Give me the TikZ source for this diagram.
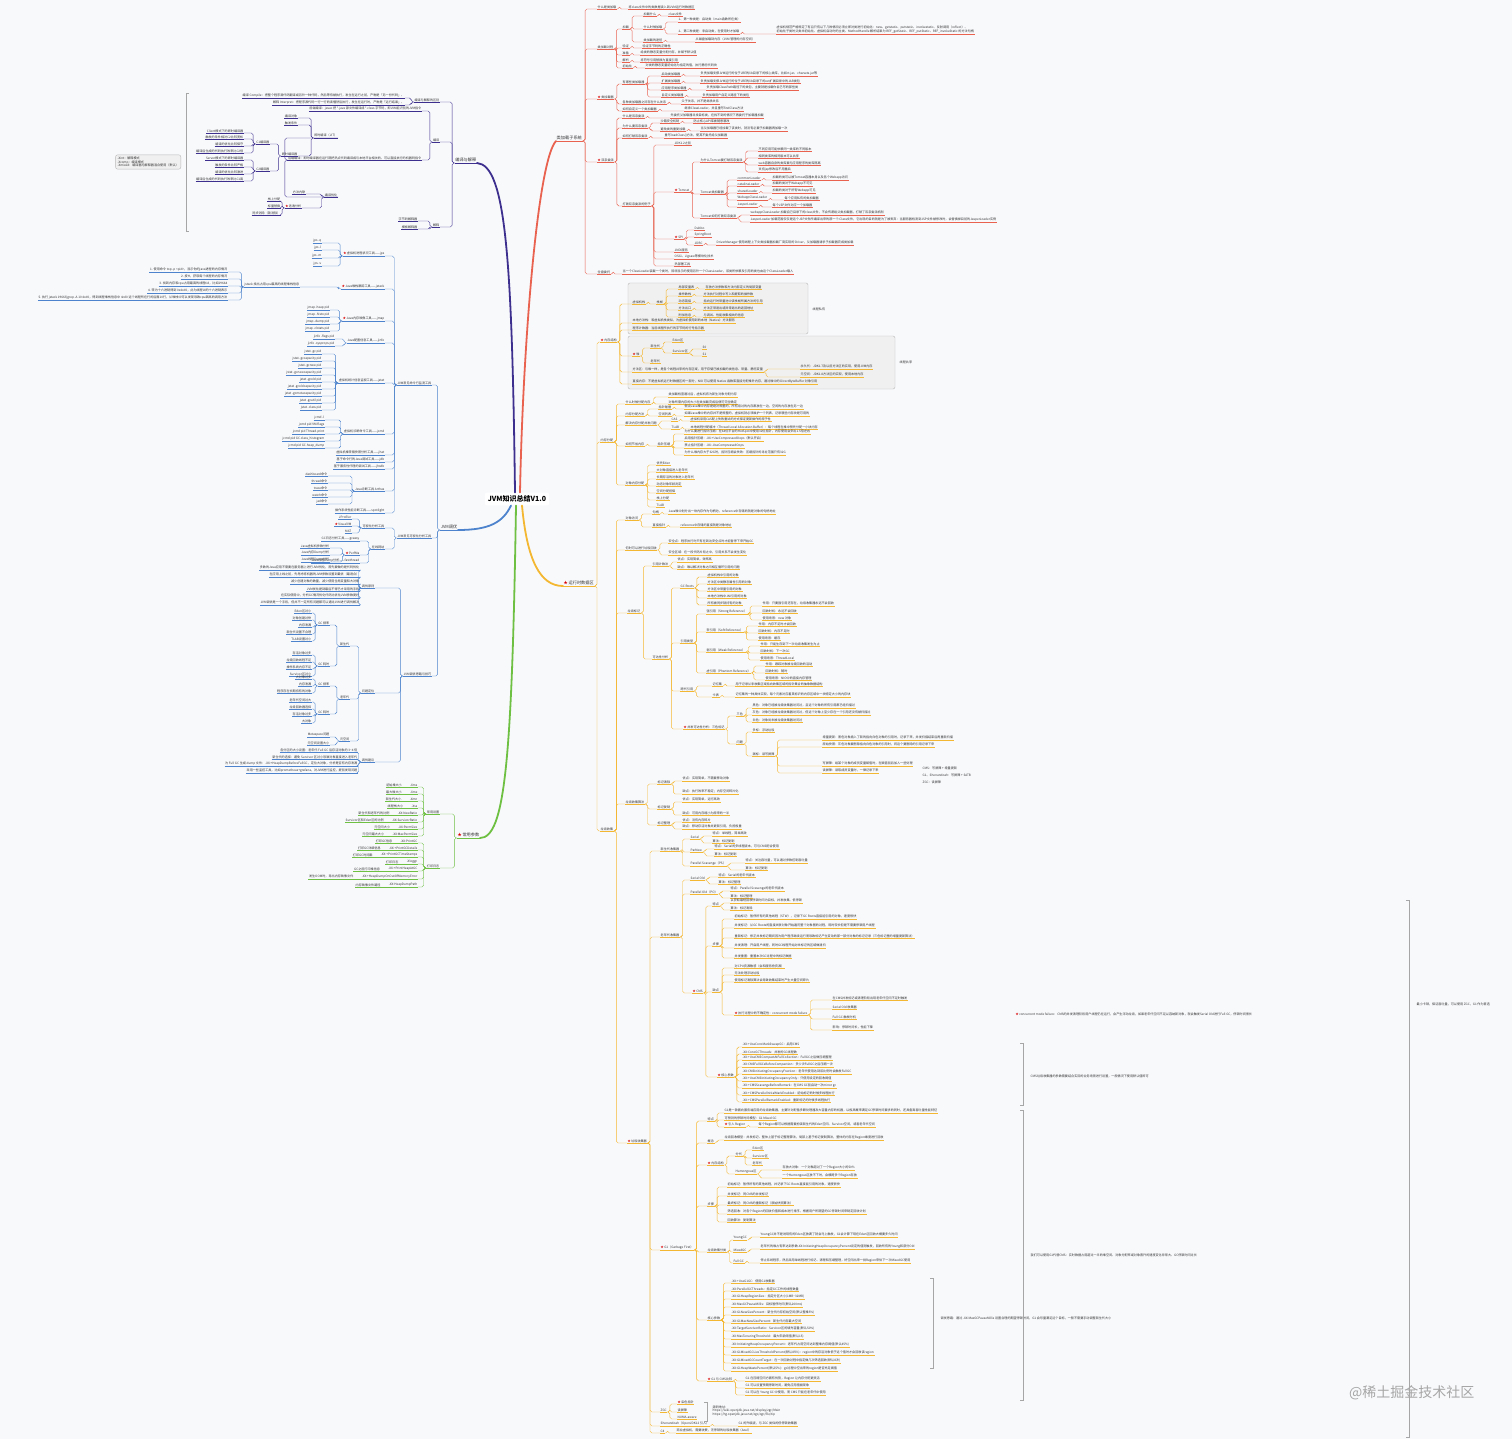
\documentclass[tikz,border=0pt]{standalone}
\usepackage{fontspec}
\setmainfont{Noto Sans CJK SC}
\usetikzlibrary{positioning}

\definecolor{cR}{HTML}{E8624F}
\definecolor{cP}{HTML}{3D2F8E}
\definecolor{cB}{HTML}{4D83CC}
\definecolor{cG}{HTML}{6EC043}
\definecolor{cO}{HTML}{F4B731}
\definecolor{bgc}{HTML}{F8F9FB}

\newcommand{\st}{{\color{red!85!black}★}\,}
% links from a parent to its children, right and left side
\newcommand{\rlk}[3]{\foreach \nn in {#3}{\draw[lk=#1] (#2.south east) -- ++(2.5,0) |- (\nn.south west);}}
\newcommand{\llk}[3]{\foreach \nn in {#3}{\draw[lk=#1] (#2.south west) -- ++(-2.5,0) |- (\nn.south east);}}

\tikzset{
  t/.style={font=\fontsize{3.1}{3.7}\selectfont, inner sep=0.5pt, text=black!80},
  rn/.style={t, anchor=south west, append after command={(\tikzlastnode.south west) edge[draw=#1, line width=.4pt] (\tikzlastnode.south east)}},
  ln/.style={t, anchor=south east, append after command={(\tikzlastnode.south west) edge[draw=#1, line width=.4pt] (\tikzlastnode.south east)}},
  mb/.style={rn=#1, font=\fontsize{4.2}{5}\selectfont},
  mbl/.style={ln=#1, font=\fontsize{4.2}{5}\selectfont},
  lk/.style={draw=#1, line width=.4pt, rounded corners=1.8pt},
  trunk/.style={draw=#1, line width=1.8pt, line cap=round},
  note/.style={t, anchor=west, align=left},
  brace/.style={draw=gray!70, line width=.4pt},
  boxed/.style={fill=gray!12, draw=gray!55, line width=.4pt, rounded corners=2pt},
}

\begin{document}
\begin{tikzpicture}[x=1pt,y=-1pt]
\fill[bgc] (0,0) rectangle (1512,1439);
\useasboundingbox (0,0) rectangle (1512,1439);

% grey boxes of the memory structure
\draw[boxed] (628,283) rectangle (808,334);
\draw[boxed] (628,336) rectangle (895,389);

\node[fill=white, rounded corners=2pt, inner sep=3pt, font=\fontsize{7}{8}\selectfont\bfseries] (root) at (517,499) {JVM知识总结V1.0};

% ---------------- 类加载子系统 ----------------
\node[mb=cR] (cls) at (556,141) {类加载子系统};
\draw[trunk=cR] ([xshift=3pt]root.north) .. controls (523,340) and (538,160) .. (cls.south west);
\node[rn=cR] (ca) at (597,9) {什么是类加载};
\node[rn=cR] (cb) at (597,49) {类加载过程};
\node[rn=cR] (cc) at (597,99) {\st 类加载器};
\node[rn=cR] (cd) at (597,162) {\st 双亲委派};
\node[rn=cR] (ce) at (597,274) {全盘委托};
\rlk{cR}{cls}{ca,cb,cc,cd,ce}
\node[rn=cR] (ca1) at (628,9) {将class文件中的类数据读入到JVM运行时数据区};
\rlk{cR}{ca}{ca1}
\node[rn=cR] (cb1) at (622,29) {加载};
\node[rn=cR] (cb2) at (622,48) {验证};
\node[rn=cR] (cb3) at (622,55) {准备};
\node[rn=cR] (cb4) at (622,62) {解析};
\node[rn=cR] (cb5) at (622,68) {初始化};
\rlk{cR}{cb}{cb1,cb2,cb3,cb4,cb5}
\node[rn=cR] (cb21) at (642,48) {验证字节码的正确性};
\node[rn=cR] (cb31) at (640,55) {给类的静态变量分配内存，并赋予默认值};
\node[rn=cR] (cb41) at (640,62) {将符号引用替换为直接引用};
\node[rn=cR] (cb51) at (645,68) {对类的静态变量初始化为指定的值，执行静态代码块};
\rlk{cR}{cb2}{cb21} \rlk{cR}{cb3}{cb31} \rlk{cR}{cb4}{cb41} \rlk{cR}{cb5}{cb51}
\node[rn=cR] (cl1) at (643,16) {加载什么};
\node[rn=cR] (cl2) at (643,29) {什么时候加载};
\node[rn=cR] (cl3) at (643,42) {类加载的途径};
\rlk{cR}{cb1}{cl1,cl2,cl3}
\node[rn=cR] (cl11) at (668,16) {class文件};
\node[rn=cR] (cl21) at (678,22) {1、第一种类是：启动类（main函数所在类）};
\node[rn=cR] (cl22) at (678,34) {2、第二种类是：非启动类，在使用时才加载};
\node[rn=cR, align=left] (cl23) at (776,34) {虚拟机规范严格规定了有且只有以下几种情况必须立即对类进行初始化：new、getstatic、putstatic、invokestatic、反射调用（reflect）、\\初始化子类时父类未初始化、虚拟机启动时的主类、MethodHandle 解析结果为 REF\_getStatic、REF\_putStatic、REF\_invokeStatic 的方法句柄};
\node[rn=cR] (cl31) at (695,42) {从磁盘加载到内存（JVM 管理的内存空间）};
\rlk{cR}{cl1}{cl11} \rlk{cR}{cl2}{cl21,cl22} \rlk{cR}{cl22}{cl23} \rlk{cR}{cl3}{cl31}
\node[rn=cR] (cc1) at (622,84) {有哪些类加载器};
\node[rn=cR] (cc2) at (622,104) {各种类加载器之间存在什么关系};
\node[rn=cR] (cc3) at (622,111) {如何自定义一个类加载器};
\rlk{cR}{cc}{cc1,cc2,cc3}
\node[rn=cR] (cc11) at (661,76) {启动类加载器};
\node[rn=cR] (cc12) at (661,83) {扩展类加载器};
\node[rn=cR] (cc13) at (661,90) {应用程序类加载器};
\node[rn=cR] (cc14) at (661,97) {自定义类加载器};
\rlk{cR}{cc1}{cc11,cc12,cc13,cc14}
\node[rn=cR] (cc111) at (700,76) {负责加载支撑JVM运行的位于JRE的lib目录下的核心类库，比如rt.jar、charsets.jar等};
\node[rn=cR] (cc121) at (700,83) {负责加载支撑JVM运行的位于JRE的lib目录下的ext扩展目录中的JAR类包};
\node[rn=cR] (cc131) at (706,90) {负责加载ClassPath路径下的类包，主要就是加载你自己写的那些类};
\node[rn=cR] (cc141) at (702,97) {负责加载用户自定义路径下的类包};
\rlk{cR}{cc11}{cc111} \rlk{cR}{cc12}{cc121} \rlk{cR}{cc13}{cc131} \rlk{cR}{cc14}{cc141}
\node[rn=cR] (cc21) at (681,104) {父子关系，并不是继承关系};
\node[rn=cR] (cc31) at (684,111) {继承ClassLoader，并且重写findClass方法};
\rlk{cR}{cc2}{cc21} \rlk{cR}{cc3}{cc31}
\node[rn=cR] (cd1) at (622,118) {什么是双亲委派};
\node[rn=cR] (cd2) at (622,128) {为什么要双亲委派};
\node[rn=cR] (cd3) at (622,138) {如何打破双亲委派};
\node[rn=cR] (cd4) at (622,206) {打破双亲委派的例子};
\rlk{cR}{cd}{cd1,cd2,cd3,cd4}
\node[rn=cR] (cd11) at (670,118) {先委托父加载器寻找目标类，在找不到的情况下再委托子加载器加载};
\node[rn=cR] (cd21) at (660,123) {沙箱安全机制};
\node[rn=cR] (cd22) at (660,131) {避免类的重复加载};
\node[rn=cR] (cd211) at (693,123) {防止核心API库被随意篡改};
\node[rn=cR] (cd221) at (700,131) {当父加载器已经加载了该类时，就没有必要子加载器再加载一次};
\node[rn=cR] (cd31) at (664,138) {重写loadClass()方法，使其不委托给父加载器};
\rlk{cR}{cd1}{cd11} \rlk{cR}{cd2}{cd21,cd22} \rlk{cR}{cd21}{cd211} \rlk{cR}{cd22}{cd221} \rlk{cR}{cd3}{cd31}
\node[rn=cR] (cx1) at (674,145) {JDK1.2之前};
\node[rn=cR] (cx2) at (674,192) {\st Tomcat};
\node[rn=cR] (cx3) at (674,239) {\st SPI};
\node[rn=cR] (cx4) at (674,252) {JNDI服务};
\node[rn=cR] (cx5) at (674,259) {OSGi、Jigsaw等模块化技术};
\node[rn=cR] (cx6) at (674,266) {热部署工具};
\rlk{cR}{cd4}{cx1,cx2,cx3,cx4,cx5,cx6}
\node[rn=cR] (ct1) at (700,162) {为什么Tomcat要打破双亲委派};
\node[rn=cR] (ct2) at (700,194) {Tomcat类加载器};
\node[rn=cR] (ct3) at (700,218) {Tomcat如何打破双亲委派};
\rlk{cR}{cx2}{ct1,ct2,ct3}
\node[rn=cR] (ct11) at (758,151) {不同应用可能依赖同一类库的不同版本};
\node[rn=cR] (ct12) at (758,158) {相同类库的相同版本可以共享};
\node[rn=cR] (ct13) at (758,165) {web容器自身的类库要与应用程序的类库隔离};
\node[rn=cR] (ct14) at (758,172) {支持jsp修改后不用重启};
\rlk{cR}{ct1}{ct11,ct12,ct13,ct14}
\node[rn=cR] (ct21) at (737,180) {commonLoader};
\node[rn=cR] (ct22) at (737,186) {catalinaLoader};
\node[rn=cR] (ct23) at (737,193) {sharedLoader};
\node[rn=cR] (ct24) at (737,200) {WebappClassLoader};
\node[rn=cR] (ct25) at (737,207) {JasperLoader};
\rlk{cR}{ct2}{ct21,ct22,ct23,ct24,ct25}
\node[rn=cR] (ct211) at (772,180) {加载的类可以被Tomcat容器本身以及各个Webapp访问};
\node[rn=cR] (ct221) at (772,186) {加载的类对于Webapp不可见};
\node[rn=cR] (ct231) at (772,193) {加载的类对于所有Webapp可见};
\node[rn=cR] (ct241) at (784,200) {每个应用私有的类加载器};
\node[rn=cR] (ct251) at (772,207) {每个JSP文件对应一个加载器};
\rlk{cR}{ct21}{ct211} \rlk{cR}{ct22}{ct221} \rlk{cR}{ct23}{ct231} \rlk{cR}{ct24}{ct241} \rlk{cR}{ct25}{ct251}
\node[rn=cR] (ct31) at (750,215) {webappClassLoader 加载自己目录下的class文件，不会传递给父类加载器，打破了双亲委派机制};
\node[rn=cR] (ct32) at (750,222) {JasperLoader 加载范围仅仅是这个JSP文件所编译出来的那一个.Class文件，它出现的目的就是为了被丢弃：当服务器检测到JSP文件被修改时，会替换掉目前的JasperLoader实例};
\rlk{cR}{ct3}{ct31,ct32}
\node[rn=cR] (cs1) at (694,230) {Dubbo};
\node[rn=cR] (cs2) at (694,237) {SpringBoot};
\node[rn=cR] (cs3) at (694,245) {JDBC};
\rlk{cR}{cx3}{cs1,cs2,cs3}
\node[rn=cR] (cs31) at (716,245) {DriverManager 使用线程上下文类加载器加载厂商实现的 Driver，父加载器请求子加载器完成类加载};
\rlk{cR}{cs3}{cs31}
\node[rn=cR] (ce1) at (622,274) {当一个ClassLoader装载一个类时，除非显示的使用另外一个ClassLoader，该类所依赖及引用的类也由这个ClassLoader载入};
\rlk{cR}{ce}{ce1}

% ---------------- 运行时数据区 ----------------
\node[mb=cO] (rt) at (563,586) {\st 运行时数据区};
\draw[trunk=cO] ([xshift=5pt]root.south) .. controls (527,560) and (540,586) .. (rt.south west);
\node[rn=cO] (m1) at (600,342) {\st 内存结构};
\node[rn=cO] (m2) at (600,442) {内存分配};
\node[rn=cO] (m3) at (600,831) {垃圾收集};
\rlk{cO}{rt}{m1,m2,m3}
\node[rn=cO] (s1) at (632,304) {虚拟机栈};
\node[rn=cO] (s2) at (632,323) {本地方法栈：和虚拟机栈类似，为虚拟机使用到的本地（Native）方法服务};
\node[rn=cO] (s3) at (632,330) {程序计数器：当前线程所执行的字节码的行号指示器};
\node[rn=cO] (h1) at (632,356) {\st 堆};
\node[rn=cO] (h2) at (632,372) {方法区：与堆一样，是各个线程共享的内存区域，用于存储已被加载的类信息、常量、静态变量};
\node[rn=cO] (h3) at (632,384) {直接内存：不是虚拟机运行时数据区的一部分，NIO 可以使用 Native 函数库直接分配堆外内存，通过堆中的 DirectByteBuffer 对象引用};
\rlk{cO}{m1}{s1,s2,s3,h1,h2,h3}
\node[rn=cO] (s11) at (656,304) {栈帧};
\rlk{cO}{s1}{s11}
\node[rn=cO] (sf1) at (678,289) {局部变量表};
\node[rn=cO] (sf2) at (678,296) {操作数栈};
\node[rn=cO] (sf3) at (678,303) {动态链接};
\node[rn=cO] (sf4) at (678,310) {方法出口};
\node[rn=cO] (sf5) at (678,317) {附加信息};
\rlk{cO}{s11}{sf1,sf2,sf3,sf4,sf5}
\node[rn=cO] (sf11) at (705,289) {存放方法参数和方法内部定义的局部变量};
\node[rn=cO] (sf21) at (703,296) {方法执行过程中写入和提取的操作数};
\node[rn=cO] (sf31) at (703,303) {指向运行时常量池中该栈帧所属方法的引用};
\node[rn=cO] (sf41) at (703,310) {方法正常退出或异常退出的返回地址};
\node[rn=cO] (sf51) at (703,317) {与调试、性能收集相关的信息};
\rlk{cO}{sf1}{sf11} \rlk{cO}{sf2}{sf21} \rlk{cO}{sf3}{sf31} \rlk{cO}{sf4}{sf41} \rlk{cO}{sf5}{sf51}
\node[rn=cO] (h11) at (650,348) {新生代};
\node[rn=cO] (h12) at (650,363) {老年代};
\rlk{cO}{h1}{h11,h12}
\node[rn=cO] (h111) at (672,342) {Eden区};
\node[rn=cO] (h112) at (672,353) {Survivor区};
\rlk{cO}{h11}{h111,h112}
\node[rn=cO] (h1121) at (702,349) {S0};
\node[rn=cO] (h1122) at (702,356) {S1};
\rlk{cO}{h112}{h1121,h1122}
\node[rn=cO] (h21) at (800,369) {永久代：JDK1.7及以前方法区的实现，使用JVM内存};
\node[rn=cO] (h22) at (800,377) {元空间：JDK1.8方法区的实现，使用本地内存};
\rlk{cO}{h2}{h21,h22}
\node[t, anchor=west] (nprv) at (812,309) {线程私有};
\node[t, anchor=west] (nshr) at (899,362) {线程共享};

\node[rn=cO] (a1) at (625,404) {什么时候分配内存};
\node[rn=cO] (a2) at (625,416) {内存分配方法};
\node[rn=cO] (a3) at (625,425) {解决内存分配并发问题};
\node[rn=cO] (a4) at (625,446) {如何节省内存};
\node[rn=cO] (a5) at (625,485) {对象内存分配};
\rlk{cO}{m2}{a1,a2,a3,a4,a5}
\node[rn=cO] (a11) at (668,397) {类加载检查通过后，虚拟机将为新生对象分配内存};
\node[rn=cO] (a12) at (668,404) {对象所需内存的大小在类加载完成后便可完全确定};
\rlk{cO}{a1}{a11,a12}
\node[rn=cO] (a21) at (658,409) {指针碰撞};
\node[rn=cO] (a22) at (658,416) {空闲列表};
\rlk{cO}{a2}{a21,a22}
\node[rn=cO] (a211) at (684,409) {假设Java堆中内存是绝对规整的，所有用过的内存都放在一边，空闲的内存放在另一边};
\node[rn=cO] (a221) at (684,416) {如果Java堆中的内存并不是规整的，虚拟机就必须维护一个列表，记录哪些内存块是可用的};
\rlk{cO}{a21}{a211} \rlk{cO}{a22}{a221}
\node[rn=cO] (a31) at (671,421) {CAS};
\node[rn=cO] (a32) at (671,429) {TLAB};
\rlk{cO}{a3}{a31,a32}
\node[rn=cO] (a311) at (690,421) {虚拟机采用CAS配上失败重试的方式保证更新操作的原子性};
\node[rn=cO] (a321) at (690,429) {本地线程分配缓冲（Thread Local Allocation Buffer）：每个线程在堆中预先分配一小块内存};
\rlk{cO}{a31}{a311} \rlk{cO}{a32}{a321}
\node[rn=cO] (a41) at (657,446) {指针压缩};
\rlk{cO}{a4}{a41}
\node[rn=cO] (a411) at (684,434) {为什么要进行指针压缩：在64位平台的HotSpot中使用32位指针，内存使用会多出1.5倍左右};
\node[rn=cO] (a412) at (684,441) {启用指针压缩：-XX:+UseCompressedOops（默认开启）};
\node[rn=cO] (a413) at (684,448) {禁止指针压缩：-XX:-UseCompressedOops};
\node[rn=cO] (a414) at (684,455) {为什么堆内存大于32G时，指针压缩会失效：压缩指针的寻址范围只有32G};
\rlk{cO}{a41}{a411,a412,a413,a414}
\node[rn=cO] (a51) at (656,465) {优先Eden};
\node[rn=cO] (a52) at (656,472) {大对象直接进入老年代};
\node[rn=cO] (a53) at (656,479) {长期存活的对象进入老年代};
\node[rn=cO] (a54) at (656,486) {动态对象年龄判定};
\node[rn=cO] (a55) at (656,493) {空间分配担保};
\node[rn=cO] (a56) at (656,500) {栈上分配};
\node[rn=cO] (a57) at (656,507) {TLAB};
\rlk{cO}{a5}{a51,a52,a53,a54,a55,a56,a57}

\node[rn=cO] (g1) at (625,520) {对象访问};
\node[rn=cO] (g2) at (625,550) {何时可以进行垃圾回收};
\node[rn=cO] (g3) at (627,613) {垃圾标记};
\node[rn=cO] (g4) at (625,804) {垃圾收集算法};
\node[rn=cO] (g5) at (627,1143) {\st 垃圾收集器};
\rlk{cO}{m3}{g1,g2,g3,g4,g5}
\node[rn=cO] (g11) at (652,514) {句柄};
\node[rn=cO] (g12) at (652,527) {直接指针};
\rlk{cO}{g1}{g11,g12}
\node[rn=cO] (g111) at (668,514) {Java堆中划分出一块内存作为句柄池，reference中存储的就是对象的句柄地址};
\node[rn=cO] (g121) at (680,527) {reference中存储的直接就是对象地址};
\rlk{cO}{g11}{g111} \rlk{cO}{g12}{g121}
\node[rn=cO] (g21) at (668,543) {安全点：程序执行时只有在到达安全点时才能暂停下来开始GC};
\node[rn=cO] (g22) at (668,555) {安全区域：在一段代码片段之中，引用关系不会发生变化};
\rlk{cO}{g2}{g21,g22}
\node[rn=cO] (g31) at (652,566) {引用计数法};
\node[rn=cO] (g32) at (652,659) {可达性分析};
\rlk{cO}{g3}{g31,g32}
\node[rn=cO] (g311) at (677,562) {优点：实现简单，效率高};
\node[rn=cO] (g312) at (677,569) {缺点：难以解决对象之间相互循环引用的问题};
\rlk{cO}{g31}{g311,g312}
\node[rn=cO] (r1) at (680,588) {GC Roots};
\node[rn=cO] (r2) at (680,643) {引用类型};
\node[rn=cO] (r3) at (680,691) {跨代引用};
\node[rn=cO] (r4) at (683,729) {\st 并发可达性分析：三色标记};
\rlk{cO}{g32}{r1,r2,r3,r4}
\node[rn=cO] (r11) at (707,577) {虚拟机栈中引用的对象};
\node[rn=cO] (r12) at (707,584) {方法区中类静态属性引用的对象};
\node[rn=cO] (r13) at (707,591) {方法区中常量引用的对象};
\node[rn=cO] (r14) at (707,598) {本地方法栈中JNI引用的对象};
\node[rn=cO] (r15) at (707,605) {所有被同步锁持有的对象};
\rlk{cO}{r1}{r11,r12,r13,r14,r15}
\node[rn=cO] (r21) at (706,614) {强引用（Strong Reference）};
\node[rn=cO] (r22) at (706,632) {软引用（Soft Reference）};
\node[rn=cO] (r23) at (706,652) {弱引用（Weak Reference）};
\node[rn=cO] (r24) at (706,673) {虚引用（Phantom Reference）};
\rlk{cO}{r2}{r21,r22,r23,r24}
\node[rn=cO] (r211) at (762,606) {作用：只要强引用还存在，垃圾收集器永远不会回收};
\node[rn=cO] (r212) at (762,613) {回收时机：永远不会回收};
\node[rn=cO] (r213) at (762,620) {使用场景：new 对象};
\node[rn=cO] (r221) at (758,626) {作用：内存不足时才会回收};
\node[rn=cO] (r222) at (758,633) {回收时机：内存不足时};
\node[rn=cO] (r223) at (758,640) {使用场景：缓存};
\node[rn=cO] (r231) at (760,646) {作用：只能生存到下一次垃圾收集发生为止};
\node[rn=cO] (r232) at (760,653) {回收时机：下一次GC};
\node[rn=cO] (r233) at (760,660) {使用场景：ThreadLocal};
\node[rn=cO] (r241) at (765,666) {作用：跟踪对象被垃圾回收的活动};
\node[rn=cO] (r242) at (765,673) {回收时机：随时};
\node[rn=cO] (r243) at (765,680) {使用场景：NIO中的直接内存管理};
\rlk{cO}{r21}{r211,r212,r213} \rlk{cO}{r22}{r221,r222,r223} \rlk{cO}{r23}{r231,r232,r233} \rlk{cO}{r24}{r241,r242,r243}
\node[rn=cO] (r31) at (712,686) {记忆集};
\node[rn=cO] (r32) at (712,697) {卡表};
\rlk{cO}{r3}{r31,r32}
\node[rn=cO] (r311) at (735,686) {用于记录从非收集区域指向收集区域的指针集合的抽象数据结构};
\node[rn=cO] (r321) at (735,697) {记忆集的一种具体实现，每个元素对应着其标识的内存区域中一块特定大小的内存块};
\rlk{cO}{r31}{r311} \rlk{cO}{r32}{r321}
\node[rn=cO] (r41) at (736,716) {三色};
\node[rn=cO] (r42) at (736,744) {问题};
\rlk{cO}{r4}{r41,r42}
\node[rn=cO] (r411) at (752,708) {黑色：对象已经被垃圾收集器访问过，且这个对象的所有引用都已经扫描过};
\node[rn=cO] (r412) at (752,715) {灰色：对象已经被垃圾收集器访问过，但这个对象上至少存在一个引用还没有被扫描过};
\node[rn=cO] (r413) at (752,722) {白色：对象尚未被垃圾收集器访问过};
\rlk{cO}{r41}{r411,r412,r413}
\node[rn=cO] (r421) at (752,732) {多标：浮动垃圾};
\node[rn=cO] (r422) at (752,756) {漏标：读写屏障};
\rlk{cO}{r42}{r421,r422}
\node[rn=cO] (r4221) at (822,740) {增量更新：黑色对象插入了新的指向白色对象的引用时，记录下来，并发扫描结束后再重新扫描};
\node[rn=cO] (r4222) at (822,747) {原始快照：灰色对象要删除指向白色对象的引用时，将这个要删除的引用记录下来};
\node[rn=cO] (r4223) at (822,766) {写屏障：给某个对象的成员变量赋值时，在赋值前后加入一些处理};
\node[rn=cO] (r4224) at (822,773) {读屏障：读取成员变量时，一律记录下来};
\rlk{cO}{r422}{r4221,r4222,r4223,r4224}
\node[t, anchor=west] (r4225) at (922,768) {CMS：写屏障 + 增量更新};
\node[t, anchor=west] (r4226) at (922,775) {G1、Shenandoah：写屏障 + SATB};
\node[t, anchor=west] (r4227) at (922,782) {ZGC：读屏障};
\node[rn=cO] (g41) at (657,784) {标记清除};
\node[rn=cO] (g42) at (657,809) {标记复制};
\node[rn=cO] (g43) at (657,825) {标记整理};
\rlk{cO}{g4}{g41,g42,g43}
\node[rn=cO] (g411) at (682,781) {优点：实现简单，不需要移动对象};
\node[rn=cO] (g412) at (682,794) {缺点：执行效率不稳定；内存空间碎片化};
\node[rn=cO] (g421) at (682,802) {优点：实现简单，运行高效};
\node[rn=cO] (g422) at (682,815) {缺点：可用内存缩小为原来的一半};
\node[rn=cO] (g431) at (682,822) {优点：没有内存碎片};
\node[rn=cO] (g432) at (682,829) {缺点：移动存活对象并更新引用，负担极重};
\rlk{cO}{g41}{g411,g412} \rlk{cO}{g42}{g421,g422} \rlk{cO}{g43}{g431,g432}

\node[rn=cO] (k1) at (660,851) {新生代收集器};
\node[rn=cO] (k2) at (660,937) {老年代收集器};
\node[rn=cO] (k3) at (660,1250) {\st G1（Garbage First）};
\node[rn=cO] (k4) at (660,1412) {ZGC};
\node[rn=cO] (k5) at (660,1426) {Shenandoah（OpenJDK12 引入）};
\node[rn=cO] (k6) at (660,1433) {C4};
\rlk{cO}{g5}{k1,k2,k3,k4,k5,k6}
\node[rn=cO] (k11) at (690,839) {Serial};
\node[rn=cO] (k12) at (690,852) {ParNew};
\node[rn=cO] (k13) at (690,866) {Parallel Scavenge（PS）};
\rlk{cO}{k1}{k11,k12,k13}
\node[rn=cO] (k111) at (712,836) {特点：单线程，简单高效};
\node[rn=cO] (k112) at (712,843) {算法：标记复制};
\node[rn=cO] (k121) at (714,849) {特点：Serial的多线程版本，可与CMS配合使用};
\node[rn=cO] (k122) at (714,856) {算法：标记复制};
\node[rn=cO] (k131) at (745,863) {特点：关注吞吐量，可以通过参数控制吞吐量};
\node[rn=cO] (k132) at (745,870) {算法：标记复制};
\rlk{cO}{k11}{k111,k112} \rlk{cO}{k12}{k121,k122} \rlk{cO}{k13}{k131,k132}
\node[rn=cO] (k21) at (690,880) {Serial Old};
\node[rn=cO] (k22) at (690,894) {Parallel Old（PO）};
\node[rn=cO] (k23) at (692,993) {\st CMS};
\rlk{cO}{k2}{k21,k22,k23}
\node[rn=cO] (k211) at (718,877) {特点：Serial的老年代版本};
\node[rn=cO] (k212) at (718,884) {算法：标记整理};
\node[rn=cO] (k221) at (730,891) {特点：Parallel Scavenge的老年代版本};
\node[rn=cO] (k222) at (730,898) {算法：标记整理};
\rlk{cO}{k21}{k211,k212} \rlk{cO}{k22}{k221,k222}
\node[rn=cO] (c1) at (712,906) {特点};
\node[rn=cO] (c2) at (712,946) {步骤};
\node[rn=cO] (c3) at (712,992) {缺点};
\node[rn=cO] (c4) at (717,1077) {\st 核心参数};
\rlk{cO}{k23}{c1,c2,c3,c4}
\node[rn=cO] (c11) at (730,903) {以获取最短回收停顿时间为目标，并发收集、低停顿};
\node[rn=cO] (c12) at (730,910) {算法：标记清除};
\rlk{cO}{c1}{c11,c12}
\node[rn=cO] (c21) at (734,919) {初始标记：暂停所有的其他线程（STW），记录下GC Roots直接能引用的对象，速度很快};
\node[rn=cO] (c22) at (734,928) {并发标记：从GC Roots的直接关联对象开始遍历整个对象图的过程，耗时较长但是不需要停顿用户线程};
\node[rn=cO] (c23) at (734,938) {重新标记：修正并发标记期间因为用户程序继续运行而导致标记产生变动的那一部分对象的标记记录（三色标记里的增量更新算法）};
\node[rn=cO] (c24) at (734,948) {并发清理：开启用户线程，同时GC线程开始对未标记的区域做清扫};
\node[rn=cO] (c25) at (734,958) {并发重置：重置本次GC过程中的标记数据};
\rlk{cO}{c2}{c21,c22,c23,c24,c25}
\node[rn=cO] (c31) at (734,968) {对CPU资源敏感（会和服务抢资源）};
\node[rn=cO] (c32) at (734,975) {无法处理浮动垃圾};
\node[rn=cO] (c33) at (734,982) {使用标记清除算法会导致收集结束时产生大量空间碎片};
\node[rn=cO] (c34) at (734,1015) {\st 执行过程中的不确定性：concurrent mode failure};
\rlk{cO}{c3}{c31,c32,c33,c34}
\node[rn=cO] (c341) at (832,1000) {在CMS并发标记或清理阶段出现老年代空间不足时触发};
\node[rn=cO] (c342) at (832,1009) {Serial Old 收集器};
\node[rn=cO] (c343) at (832,1019) {Full GC 触发时机};
\node[rn=cO] (c344) at (832,1030) {影响：停顿时间长，性能下降};
\rlk{cO}{c34}{c341,c342,c343,c344}
\node[t, anchor=west, align=left] (c345) at (1015,1014) {\st concurrent mode failure：CMS的并发清理阶段用户线程仍在运行，会产生浮动垃圾，如果老年代空间不足以容纳新对象，就会触发Serial Old进行Full GC，停顿时间很长};
\foreach \pp/\yy in {-XX:+UseConcMarkSweepGC：启用CMS/1047, -XX:ConcGCThreads：并发的GC线程数/1054, -XX:+UseCMSCompactAtFullCollection：FullGC之后做压缩整理/1060, -XX:CMSFullGCsBeforeCompaction：多少次FullGC之后压缩一次/1067, -XX:CMSInitiatingOccupancyFraction：老年代使用达到该比例时会触发FullGC/1074, -XX:+UseCMSInitiatingOccupancyOnly：只使用设定的回收阈值/1081, -XX:+CMSScavengeBeforeRemark：在CMS GC前启动一次minor gc/1088, -XX:+CMSParallellnitialMarkEnabled：初始标记的时候多线程执行/1095, -XX:+CMSParallelRemarkEnabled：重新标记的时候多线程执行/1102}
  {\node[rn=cO] (cp\yy) at (742,\yy) {\pp}; \draw[lk=cO] (c4.south east) -- ++(2.5,0) |- (cp\yy.south west);}
\draw[brace] (1020,1043) -- (1023,1043) -- (1023,1105) -- (1020,1105);
\node[note] (cmsn) at (1030,1076) {CMS垃圾收集器的参数需要结合实际的业务场景进行设置，一般情况下使用默认值即可};

\node[rn=cO] (q1) at (707,1121) {特点};
\node[rn=cO] (q2) at (707,1143) {概念};
\node[rn=cO] (q3) at (707,1165) {\st 内存结构};
\node[rn=cO] (q4) at (707,1206) {步骤};
\node[rn=cO] (q5) at (707,1252) {垃圾收集分类};
\node[rn=cO] (q6) at (707,1320) {核心参数};
\node[rn=cO] (q7) at (707,1381) {\st G1 与 CMS比较};
\rlk{cO}{k3}{q1,q2,q3,q4,q5,q6,q7}
\node[rn=cO] (q11) at (724,1113) {G1是一款面向服务端应用的垃圾收集器，主要针对配备多颗处理器及大容量内存的机器，以极高概率满足GC停顿时间要求的同时，还具备高吞吐量性能特征};
\node[rn=cO] (q12) at (724,1120) {可预测的停顿时间模型：G1 Mixed GC};
\node[rn=cO] (q13) at (724,1127) {\st 引入 Region};
\rlk{cO}{q1}{q11,q12,q13}
\node[rn=cO] (q131) at (758,1127) {每个Region都可以根据需要扮演新生代的Eden空间、Survivor空间，或者老年代空间};
\node[rn=cO] (q21) at (724,1140) {垃圾回收模型：并发标记、整体上基于标记整理算法，局部上基于标记复制算法，整体的内存在Region维度进行回收};
\rlk{cO}{q13}{q131} \rlk{cO}{q2}{q21}
\node[rn=cO] (q31) at (735,1156) {分代};
\node[rn=cO] (q32) at (735,1174) {Humongous区};
\rlk{cO}{q3}{q31,q32}
\node[rn=cO] (q311) at (752,1150) {Eden区};
\node[rn=cO] (q312) at (752,1158) {Survivor区};
\node[rn=cO] (q313) at (752,1165) {老年代};
\rlk{cO}{q31}{q311,q312,q313}
\node[rn=cO] (q321) at (782,1170) {存放大对象：一个对象超过了一个Region大小的50\%};
\node[rn=cO] (q322) at (782,1178) {一个Humongous区放不下时，会横跨多个Region存放};
\rlk{cO}{q32}{q321,q322}
\node[rn=cO] (q41) at (727,1187) {初始标记：暂停所有的其他线程，并记录下GC Roots直接能引用的对象，速度很快};
\node[rn=cO] (q42) at (727,1196) {并发标记：同CMS的并发标记};
\node[rn=cO] (q43) at (727,1205) {最终标记：同CMS的重新标记（原始快照算法）};
\node[rn=cO] (q44) at (727,1214) {筛选回收：对各个Region的回收价值和成本进行排序，根据用户所期望的GC停顿时间来制定回收计划};
\node[rn=cO] (q45) at (727,1222) {回收算法：复制算法};
\rlk{cO}{q4}{q41,q42,q43,q44,q45}
\node[rn=cO] (q51) at (733,1240) {YoungGC};
\node[rn=cO] (q52) at (733,1252) {MixedGC};
\node[rn=cO] (q53) at (733,1263) {Full GC};
\rlk{cO}{q5}{q51,q52,q53}
\node[rn=cO] (q511) at (760,1237) {YoungGC并不是说现有的Eden区放满了就会马上触发，G1会计算下现在Eden区回收大概要多久时间};
\node[rn=cO] (q521) at (760,1249) {老年代的堆占有率达到参数-XX:InitiatingHeapOccupancyPercent设定的值则触发，回收所有的Young和部分Old};
\node[rn=cO] (q531) at (760,1263) {停止系统程序，然后采用单线程进行标记、清理和压缩整理，好空闲出来一批Region来供下一次MixedGC使用};
\rlk{cO}{q51}{q511} \rlk{cO}{q52}{q521} \rlk{cO}{q53}{q531}
\foreach \pp/\yy in {-XX:+UseG1GC：使用G1收集器/1283, -XX:ParallelGCThreads：指定GC工作的线程数量/1291, -XX:G1HeapRegionSize：指定分区大小(1MB\textasciitilde 32MB)/1299, -XX:MaxGCPauseMillis：目标暂停时间(默认200ms)/1307, -XX:G1NewSizePercent：新生代内存初始空间(默认整堆5\%)/1315, -XX:G1MaxNewSizePercent：新生代内存最大空间/1323, -XX:TargetSurvivorRatio：Survivor区的填充容量(默认50\%)/1331, -XX:MaxTenuringThreshold：最大年龄阈值(默认15)/1339, -XX:InitiatingHeapOccupancyPercent：老年代占用空间达到整堆内存阈值(默认45\%)/1347, -XX:G1MixedGCLiveThresholdPercent(默认85\%)：region中的存活对象低于这个值时才会回收该region/1355, -XX:G1MixedGCCountTarget：在一次回收过程中指定做几次筛选回收(默认8次)/1363, -XX:G1HeapWastePercent(默认5\%)：gc过程中空出来的region是否充足阈值/1371}
  {\node[rn=cO] (qp\yy) at (731,\yy) {\pp}; \draw[lk=cO] (q6.south east) -- ++(2.5,0) |- (qp\yy.south west);}
\draw[brace] (930,1278) -- (933,1278) -- (933,1368) -- (930,1368);
\node[note] (g1n) at (940,1318) {调优思路：通过 -XX:MaxGCPauseMillis 设置合理的期望停顿时间，G1 会尽量满足这个目标，一般不需要手动调整新生代大小};
\node[rn=cO] (q71) at (745,1381) {G1 在压缩空间方面有优势，Region 让内存分配更灵活};
\node[rn=cO] (q72) at (745,1388) {G1 可以设置预期停顿时间，避免应用雪崩现象};
\node[rn=cO] (q73) at (745,1395) {G1 可以在 Young GC 中使用，而 CMS 只能在老年代中使用};
\rlk{cO}{q7}{q71,q72,q73}
\draw[brace] (1020,1110) -- (1023,1110) -- (1023,1400) -- (1020,1400);
\node[note] (g1n2) at (1030,1255) {我们可以使用G1代替CMS：实时数据占用超过一半的堆空间、对象分配率或对象晋升的速度变化非常大、GC停顿时间过长};
\node[rn=cO] (k41) at (677,1404) {\st 染色指针};
\node[rn=cO] (k42) at (677,1412) {读屏障};
\node[rn=cO] (k43) at (677,1419) {NUMA-aware};
\rlk{cO}{k4}{k41,k42,k43}
\draw[brace] (704,1402) -- (707,1402) -- (707,1421) -- (704,1421);
\node[note] (zgcn) at (712,1411) {源码地址：\\https://wiki.openjdk.java.net/display/zgc/Main\\https://hg.openjdk.java.net/zgc/zgc/file/tip};
\node[rn=cO] (k51) at (738,1426) {G1 的升级版，与 ZGC 类似的低停顿收集器};
\node[rn=cO] (k61) at (676,1433) {商业虚拟机，需要收费，无停顿的垃圾收集器（Azul）};
\rlk{cO}{k5}{k51} \rlk{cO}{k6}{k61}
\draw[brace] (1406,900) -- (1409,900) -- (1409,1437) -- (1406,1437);
\node[note] (gcn) at (1416,1004) {最小卡顿，保证吞吐量，可以使用 ZGC，G1 作为首选};

% ---------------- 编译与解释 ----------------
\node[mbl=cP] (cj) at (477,163) {编译与解释};
\draw[trunk=cP] ([xshift=-2pt]root.north) .. controls (512,260) and (506,165) .. (cj.south east);
\node[ln=cP] (jb1) at (440,102) {编译与解释的区别};
\node[ln=cP] (jb2) at (440,142) {编译};
\node[ln=cP] (jb3) at (440,227) {解释};
\llk{cP}{cj}{jb1,jb2,jb3}
\node[ln=cP] (jb11) at (405,98) {编译 Compile：把整个程序源代码翻译成另外一种代码，然后等待被执行，发生在运行之前，产物是「另一份代码」。};
\node[ln=cP] (jb12) at (405,105) {解释 Interpret：把程序源代码一行一行的读懂然后执行，发生在运行时，产物是「运行结果」。};
\llk{cP}{jb1}{jb11,jb12}
\node[ln=cP] (jc1) at (422,111) {前端编译：javac 把 *.java 源文件编译成 *.class 字节码，即JVM能识别的JVM指令};
\node[ln=cP] (jc2) at (422,160) {后端编译：即时编译器在运行期把热点代码编译成与本地平台相关的、可以直接执行的机器码指令};
\llk{cP}{jb2}{jc1,jc2}
\node[ln=cP] (jd1) at (338,138) {即时编译（JIT）};
\node[ln=cP] (jd2) at (338,197) {编译优化};
\llk{cP}{jc2}{jd1,jd2}
\node[ln=cP] (je1) at (298,118) {编译对象};
\node[ln=cP] (je2) at (298,125) {触发条件};
\node[ln=cP] (je3) at (298,156) {即时编译器};
\llk{cP}{jd1}{je1,je2,je3}
\node[ln=cP] (je31) at (270,144) {C1编译器};
\node[ln=cP] (je32) at (270,171) {C2编译器};
\llk{cP}{je3}{je31,je32}
\node[ln=cP] (jf1) at (244,133) {Client模式下的即时编译器};
\node[ln=cP] (jf2) at (244,139) {触发的条件相对C2比较宽松};
\node[ln=cP] (jf3) at (244,146) {编译的优化比较保守};
\node[ln=cP] (jf4) at (244,153) {编译后生成的代码执行效率比C2低};
\llk{cP}{je31}{jf1,jf2,jf3,jf4}
\node[ln=cP] (jf5) at (244,160) {Server模式下的即时编译器};
\node[ln=cP] (jf6) at (244,167) {触发的条件比较严格};
\node[ln=cP] (jf7) at (244,174) {编译的优化比较激进};
\node[ln=cP] (jf8) at (244,181) {编译后生成的代码执行效率比C1高};
\llk{cP}{je32}{jf5,jf6,jf7,jf8}
\node[ln=cP] (je4) at (306,194) {方法内联};
\node[ln=cP] (je5) at (302,208) {\st 逃逸分析};
\llk{cP}{jd2}{je4,je5}
\node[ln=cP] (je51) at (281,201) {栈上分配};
\node[ln=cP] (je52) at (281,208) {标量替换};
\node[ln=cP] (je53) at (281,215) {同步消除（锁消除）};
\llk{cP}{je5}{je51,je52,je53}
\node[ln=cP] (jb31) at (418,221) {字节码解释器};
\node[ln=cP] (jb32) at (418,229) {模板解释器};
\llk{cP}{jb3}{jb31,jb32}
\draw[brace] (189,93) -- (186,93) -- (186,231) -- (189,231);
\node[boxed, t, align=left, anchor=east, inner sep=2pt] (jvmode) at (181,162) {-Xint：解释模式\\-Xcomp：编译模式\\-Xmixed：编译器与解释器混合使用（默认）};

% ---------------- JVM调优 ----------------
\node[mbl=cB] (jt) at (458,530) {JVM调优};
\draw[trunk=cB] ([xshift=-6pt]root.south) .. controls (503,522) and (490,530) .. (jt.south east);
\node[ln=cB] (t1) at (432,385) {JVM常见命令行监测工具};
\node[ln=cB] (t2) at (432,538) {JVM常见可视化分析工具};
\node[ln=cB] (t3) at (432,676) {JVM调优思路与技巧};
\llk{cB}{jt}{t1,t2,t3}
\node[ln=cB] (tk1) at (385,256) {\st 虚拟机进程状况工具——jps};
\node[ln=cB] (tk2) at (385,289) {\st Java堆栈跟踪工具——jstack};
\node[ln=cB] (tk3) at (385,321) {\st Java内存映像工具——jmap};
\node[ln=cB] (tk4) at (385,343) {Java配置信息工具——jinfo};
\node[ln=cB] (tk5) at (385,383) {虚拟机统计信息监视工具——jstat};
\node[ln=cB] (tk6) at (385,434) {虚拟机诊断命令工具——jcmd};
\node[ln=cB] (tk7) at (385,455) {虚拟机堆转储快照分析工具——jhat};
\node[ln=cB] (tk8) at (385,462) {基于命令行的Java调试工具——jdb};
\node[ln=cB] (tk9) at (385,469) {基于服务性代理的调试工具——jhsdb};
\node[ln=cB] (tk10) at (385,491) {Java诊断工具 Arthas};
\node[ln=cB] (tk11) at (385,513) {操作系统性能诊断工具——spotlight};
\llk{cB}{t1}{tk1,tk2,tk3,tk4,tk5,tk6,tk7,tk8,tk9,tk10,tk11}
\node[ln=cB] (tj1) at (322,243) {jps -q};
\node[ln=cB] (tj2) at (322,250) {jps -l};
\node[ln=cB] (tj3) at (322,258) {jps -m};
\node[ln=cB] (tj4) at (322,266) {jps -v};
\llk{cB}{tk1}{tj1,tj2,tj3,tj4}
\node[ln=cB] (ts1) at (300,287) {jstack 找出占用cpu最高的线程堆栈信息};
\llk{cB}{tk2}{ts1}
\node[ln=cB] (ts11) at (228,272) {1. 使用命令 top -p <pid>，显示你的java进程的内存情况};
\node[ln=cB] (ts12) at (228,279) {2. 按H，获取每个线程的内存情况};
\node[ln=cB] (ts13) at (228,286) {3. 找到内存和cpu占用最高的线程tid，比如19664};
\node[ln=cB] (ts14) at (228,293) {4. 转为十六进制得到 0x4cd0，此为线程id的十六进制表示};
\node[ln=cB] (ts15) at (228,300) {5. 执行 jstack 19663|grep -A 10 4cd0，得到线程堆栈信息中 4cd0 这个线程所在行的后面10行，从堆栈中可以发现导致cpu飙高的调用方法};
\llk{cB}{ts1}{ts11,ts12,ts13,ts14,ts15}
\node[ln=cB] (tm1) at (330,310) {jmap -heap pid};
\node[ln=cB] (tm2) at (330,317) {jmap -histo pid};
\node[ln=cB] (tm3) at (330,324) {jmap -dump pid};
\node[ln=cB] (tm4) at (330,331) {jmap -clstats pid};
\llk{cB}{tk3}{tm1,tm2,tm3,tm4}
\node[ln=cB] (ti1) at (335,339) {jinfo -flags pid};
\node[ln=cB] (ti2) at (335,346) {jinfo -sysprops pid};
\llk{cB}{tk4}{ti1,ti2}
\foreach \pp/\yy in {jstat -gc pid/354, jstat -gccapacity pid/361, jstat -gcnew pid/368, jstat -gcnewcapacity pid/375, jstat -gcold pid/382, jstat -gcoldcapacity pid/389, jstat -gcmetacapacity pid/396, jstat -gcutil pid/403, jstat -class pid/410}
  {\node[ln=cB] (tt\yy) at (322,\yy) {\pp}; \draw[lk=cB] (tk5.south west) -- ++(-2.5,0) |- (tt\yy.south east);}
\foreach \pp/\yy in {jcmd -l/420, jcmd pid VM.flags/427, jcmd pid Thread.print/434, jcmd pid GC.class\_histogram/441, jcmd pid GC.heap\_dump/448}
  {\node[ln=cB] (tc\yy) at (325,\yy) {\pp}; \draw[lk=cB] (tk6.south west) -- ++(-2.5,0) |- (tc\yy.south east);}
\foreach \pp/\yy in {dashboard命令/476, thread命令/483, trace命令/490, watch命令/497, jad命令/504}
  {\node[ln=cB] (ta\yy) at (328,\yy) {\pp}; \draw[lk=cB] (tk10.south west) -- ++(-2.5,0) |- (ta\yy.south east);}
\node[ln=cB] (v1) at (385,528) {可视化分析工具};
\node[ln=cB] (v2) at (385,549) {在线网站};
\llk{cB}{t2}{v1,v2}
\node[ln=cB] (v11) at (352,519) {JProfiler};
\node[ln=cB] (v12) at (352,526) {\st VisualVM};
\node[ln=cB] (v13) at (352,533) {MAT};
\llk{cB}{v1}{v11,v12,v13}
\node[ln=cB] (v21) at (360,541) {GC日志分析工具——gceasy};
\node[ln=cB] (v22) at (360,555) {\st PerfMa};
\node[ln=cB] (v23) at (360,563) {Java线程Dump分析——fastthread};
\llk{cB}{v2}{v21,v22,v23}
\node[ln=cB] (v221) at (330,548) {Java虚拟机参数分析};
\node[ln=cB] (v222) at (330,555) {Java内存Dump分析};
\node[ln=cB] (v223) at (330,562) {Java线程Dump分析};
\llk{cB}{v22}{v221,v222,v223}
\node[ln=cB] (y1) at (375,588) {调优原则};
\node[ln=cB] (y2) at (375,693) {问题定位};
\node[ln=cB] (y3) at (375,762) {调优建议};
\llk{cB}{t3}{y1,y2,y3}
\node[ln=cB] (y11) at (360,570) {多数的Java应用不需要在服务器上进行JVM优化，首先要做的是代码优化};
\node[ln=cB] (y12) at (360,577) {在应用上线之前，先考虑将机器的JVM参数设置到最优（最适合）};
\node[ln=cB] (y13) at (360,584) {减少创建对象的数量，减少使用全局变量和大对象};
\node[ln=cB] (y14) at (360,591) {JVM优化是到最后不得已才采用的手段};
\node[ln=cB] (y15) at (360,598) {在实际使用中，分析GC情况优化代码比优化JVM参数更好};
\node[ln=cB] (y16) at (360,605) {JVM调优是一个手段，但并不一定所有问题都可以通过JVM进行调优解决};
\llk{cB}{y1}{y11,y12,y13,y14,y15,y16}
\node[ln=cB] (y21) at (350,646) {新生代};
\node[ln=cB] (y22) at (350,699) {老年代};
\node[ln=cB] (y23) at (350,741) {元空间};
\llk{cB}{y2}{y21,y22,y23}
\node[ln=cB] (y211) at (330,625) {GC 频率};
\node[ln=cB] (y212) at (330,666) {GC 耗时};
\llk{cB}{y21}{y211,y212}
\foreach \pp/\yy in {Eden区过小/613, 对象创建过快/620, 内存泄漏/627, 新生代设置不合理/634, TLAB设置过小/641}
  {\node[ln=cB] (ya\yy) at (312,\yy) {\pp}; \draw[lk=cB] (y211.south west) -- ++(-2.5,0) |- (ya\yy.south east);}
\foreach \pp/\yy in {存活对象过多/655, 垃圾回收线程不足/662, 操作系统内存不足/669, Survivor区过小/676}
  {\node[ln=cB] (yb\yy) at (312,\yy) {\pp}; \draw[lk=cB] (y212.south west) -- ++(-2.5,0) |- (yb\yy.south east);}
\node[ln=cB] (y221) at (330,686) {GC 频率};
\node[ln=cB] (y222) at (330,714) {GC 耗时};
\llk{cB}{y22}{y221,y222}
\foreach \pp/\yy in {大对象过多/679, 内存泄漏/686, 程序存在长期持有的对象/693}
  {\node[ln=cB] (yc\yy) at (312,\yy) {\pp}; \draw[lk=cB] (y221.south west) -- ++(-2.5,0) |- (yc\yy.south east);}
\foreach \pp/\yy in {老年代空间过大/702, 垃圾回收器选择/709, 存活对象过多/716, 大对象/723}
  {\node[ln=cB] (yd\yy) at (312,\yy) {\pp}; \draw[lk=cB] (y222.south west) -- ++(-2.5,0) |- (yd\yy.south east);}
\node[ln=cB] (y231) at (330,737) {Metaspace问题};
\node[ln=cB] (y232) at (330,745) {元空间设置大小};
\llk{cB}{y23}{y231,y232}
\node[ln=cB] (y31) at (358,752) {各分区的大小设置：老年代 Full GC 后存活对象的 3\textasciitilde 4 倍};
\node[ln=cB] (y32) at (358,759) {新生代的选择：避免 Survivor 区过小导致对象直接进入老年代};
\node[ln=cB] (y33) at (358,766) {为 Full GC 生成 dump 文件：-XX:+HeapDumpBeforeFullGC，定位大对象，分析是否有内存泄漏};
\node[ln=cB] (y34) at (358,773) {采用一些监控工具，比如prometheus+grafana，对JVM进行监控，提前发现问题};
\llk{cB}{y3}{y31,y32,y33,y34}

% ---------------- 常用参数 ----------------
\node[mbl=cG] (cp) at (480,838) {\st 常用参数};
\draw[trunk=cG] ([xshift=-1pt]root.south) .. controls (512,760) and (505,838) .. (cp.south east);
\node[ln=cG] (p1) at (440,814) {常用设置};
\node[ln=cG] (p2) at (440,868) {打印日志};
\llk{cG}{cp}{p1,p2}
\foreach \aa/\bb/\yy in {-Xms/初始堆大小/787, -Xmx/最大堆大小/794, -Xmn/新生代大小/801, -Xss/线程栈大小/808, -XX:NewRatio/新生代和老年代的比例/815, -XX:SurvivorRatio/Survivor区和Eden区的比例/822, -XX:PermSize/元空间大小/829, -XX:MaxPermSize/元空间最大大小/836}
  {\node[ln=cG] (pa\yy) at (418,\yy) {\aa}; \draw[lk=cG] (p1.south west) -- ++(-2.5,0) |- (pa\yy.south east);
   \node[ln=cG, left=7pt of pa\yy.south west, anchor=south east] (pb\yy) {\bb}; \draw[lk=cG] (pa\yy.south west) -- (pb\yy.south east);}
\foreach \aa/\bb/\yy in {-XX:PrintGC/打印GC信息/843, -XX:+PrintGCDetails/打印GC详细信息/850, -XX:+PrintGCTimeStamps/打印GC时间戳/857, -Xloggc/打印日志/864, -XX:+PrintHeapAtGC/GC之前打印堆信息/871, -XX:+HeapDumpOnOutOfMemoryError/发生OOM时，导出内存映像文件/879, -XX:HeapDumpPath/内存映像文件路径/887}
  {\node[ln=cG] (pa\yy) at (418,\yy) {\aa}; \draw[lk=cG] (p2.south west) -- ++(-2.5,0) |- (pa\yy.south east);
   \node[ln=cG, left=7pt of pa\yy.south west, anchor=south east] (pb\yy) {\bb}; \draw[lk=cG] (pa\yy.south west) -- (pb\yy.south east);}

% watermark
\node[anchor=east, text=gray!70, font=\fontsize{14}{16}\selectfont] (wm) at (1478,1393) {@稀土掘金技术社区};
\end{tikzpicture}
\end{document}
